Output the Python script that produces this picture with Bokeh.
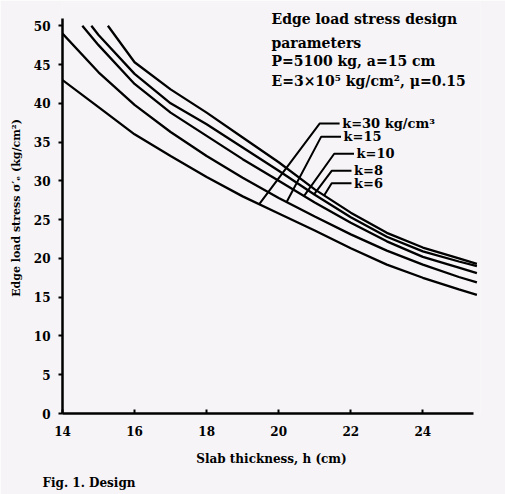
import numpy as np
from bokeh.plotting import figure
from bokeh.models import Label, FixedTicker, Range1d, Title
from bokeh.embed import file_html
from bokeh.resources import INLINE

# Slab thickness h (cm) and edge load stress (kg/cm^2) for each subgrade modulus k
k30_h = [14.0, 15, 16, 17, 18, 19, 20, 21, 22, 23, 24, 25, 25.5]
k30_s = [43.0, 39.5, 36.0, 33.2, 30.5, 28.0, 25.8, 23.6, 21.3, 19.2, 17.5, 16.0, 15.3]
k15_h = [14.0, 15, 16, 17, 18, 19, 20, 21, 22, 23, 24, 25, 25.5]
k15_s = [49.0, 44.0, 39.8, 36.3, 33.2, 30.4, 27.8, 25.4, 23.1, 21.0, 19.2, 17.6, 16.9]
k10_h = [14.55, 15, 16, 17, 18, 19, 20, 21, 22, 23, 24, 25, 25.5]
k10_s = [50.0, 47.5, 42.5, 38.8, 35.8, 32.8, 30.0, 27.2, 24.6, 22.2, 20.2, 18.8, 18.1]
k8_h = [14.8, 15, 16, 17, 18, 19, 20, 21, 22, 23, 24, 25, 25.5]
k8_s = [50.0, 48.8, 43.8, 40.0, 37.3, 34.3, 31.3, 28.2, 25.3, 22.8, 20.9, 19.6, 19.0]
k6_h = [15.26, 16, 17, 18, 19, 20, 21, 22, 23, 24, 25, 25.5]
k6_s = [50.0, 45.3, 41.8, 38.8, 35.6, 32.4, 28.9, 25.9, 23.3, 21.4, 20.0, 19.3]

curve_labels = ["k=30  kg/cm³", "k=15", "k=10", "k=8", "k=6"]
x_ticks = [14, 16, 18, 20, 22, 24]
y_ticks = [0, 5, 10, 15, 20, 25, 30, 35, 40, 45, 50]

BG = "#f6f4f6"
SERIF = "DejaVu Serif"

p = figure(width=505, height=494, output_backend="svg", toolbar_location=None,
           x_range=Range1d(14, 25.6), y_range=Range1d(0, 53),
           min_border_left=62, min_border_right=25, min_border_top=2,
           min_border_bottom=79, background_fill_color=BG, border_fill_color=BG)
p.outline_line_color = None
p.grid.visible = False

for ax in (p.xaxis[0], p.yaxis[0]):
    ax.axis_line_width = 2.5
    ax.axis_line_color = "black"
    ax.major_tick_line_width = 2
    ax.minor_tick_line_color = None
    ax.major_label_text_font = SERIF
    ax.major_label_text_font_style = "bold"
    ax.major_label_text_font_size = "12px"
    ax.major_label_text_color = "black"
    ax.axis_label_text_font = SERIF
    ax.axis_label_text_font_style = "bold"
    ax.axis_label_text_color = "black"

p.xaxis.ticker = FixedTicker(ticks=x_ticks)
p.xaxis.bounds = (14, 25.4)
p.xaxis.major_tick_in = 4
p.xaxis.major_tick_out = 0
p.xaxis.major_label_standoff = 12
p.xaxis.axis_label = "Slab thickness, h (cm)"
p.xaxis.axis_label_text_font_size = "12px"
p.xaxis.axis_label_standoff = 13

p.yaxis.ticker = FixedTicker(ticks=y_ticks)
p.yaxis.bounds = (0, 51)
p.yaxis.major_tick_in = 0
p.yaxis.major_tick_out = 4
p.yaxis.major_label_standoff = 8
p.yaxis.axis_label = "Edge load stress σ′ₑ (kg/cm²)"
p.yaxis.axis_label_text_font_size = "11px"
p.yaxis.axis_label_standoff = 8

curves = [(k30_h, k30_s), (k15_h, k15_s), (k10_h, k10_s), (k8_h, k8_s), (k6_h, k6_s)]
for h, s in curves:
    p.line(h, s, line_color="black", line_width=2.3)

# leader lines: (end on curve x, elbow x, elbow y)
leaders = [(19.46, 21.14, 37.4), (20.22, 21.18, 35.7), (20.70, 21.54, 33.5),
           (20.98, 21.47, 31.3), (21.26, 21.47, 29.7)]
for (h, s), (lx, ex, ey), lab in zip(curves, leaders, curve_labels):
    ly = float(np.interp(lx, h, s))
    p.line([lx, ex, ex + 0.55], [ly, ey, ey], line_color="black", line_width=2)
    p.add_layout(Label(x=ex + 0.62, y=ey, text=lab, text_baseline="middle",
                       text_font=SERIF, text_font_style="bold",
                       text_font_size="13px", text_color="black"))

info = ["Edge load stress design", "parameters", "P=5100 kg, a=15 cm",
        "E=3×10⁵ kg/cm², μ=0.15"]
for txt, yy in zip(info, [50.9, 47.8, 45.5, 42.9]):
    p.add_layout(Label(x=19.8, y=yy, text=txt, text_baseline="middle",
                       text_font=SERIF, text_font_style="bold",
                       text_font_size="14px", text_color="black"))

p.add_layout(Title(text="Fig. 1.   Design", align="left", text_font=SERIF,
                   text_font_style="bold", text_font_size="12px",
                   text_color="black", offset=-20), "below")

open("out.html", "w").write(file_html(p, INLINE))
